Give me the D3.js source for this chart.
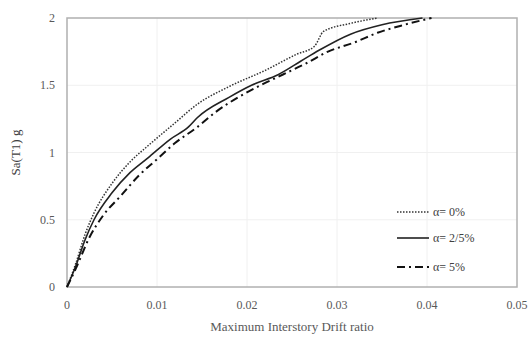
<!DOCTYPE html>
<html>
<head>
<meta charset="utf-8">
<script src="https://cdn.jsdelivr.net/npm/d3@7"></script>
<style>
  body { margin: 0; background: #fff; }
  text { font-family: "Liberation Serif", "Times New Roman", serif; }
</style>
</head>
<body>
<div id="chart"></div>
<script>
// data: [drift ratio, Sa]
var alpha0 = [[0,0],[0.001,0.18],[0.002,0.39],[0.003,0.55],[0.005,0.77],[0.007,0.93],[0.009,1.05],[0.012,1.22],[0.0145,1.36],[0.018,1.49],[0.022,1.61],[0.0255,1.73],[0.0275,1.79],[0.0285,1.9],[0.0315,1.96],[0.0345,2.0]];
var alpha25 = [[0,0],[0.001,0.16],[0.002,0.35],[0.003,0.5],[0.005,0.7],[0.007,0.85],[0.009,0.96],[0.0115,1.1],[0.0135,1.19],[0.0145,1.26],[0.018,1.41],[0.0205,1.5],[0.0235,1.58],[0.026,1.68],[0.028,1.76],[0.0315,1.88],[0.035,1.95],[0.0395,2.0]];
var alpha5 = [[0,0],[0.001,0.14],[0.0025,0.37],[0.004,0.53],[0.006,0.68],[0.008,0.83],[0.01,0.95],[0.012,1.07],[0.0145,1.19],[0.0165,1.3],[0.019,1.41],[0.0215,1.5],[0.024,1.58],[0.0265,1.66],[0.029,1.75],[0.032,1.82],[0.0345,1.89],[0.0375,1.95],[0.0405,2.0]];
var seriesNames = ["\u03b1= 0%", "\u03b1= 2/5%", "\u03b1= 5%"];
var xTicks = [0, 0.01, 0.02, 0.03, 0.04, 0.05];
var yTicks = [0, 0.5, 1, 1.5, 2];

var width = 531, height = 340;
var margin = { top: 18, right: 14, bottom: 53, left: 67 };

var svg = d3.select("#chart").append("svg")
  .attr("width", width)
  .attr("height", height);

var xScale = d3.scaleLinear().domain([0, 0.05]).range([margin.left, width - margin.right]);
var yScale = d3.scaleLinear().domain([0, 2]).range([height - margin.bottom, margin.top]);

// faint grid
svg.append("g").selectAll("line.vg")
  .data(xTicks.slice(1, -1)).enter().append("line")
  .attr("x1", d => xScale(d)).attr("x2", d => xScale(d))
  .attr("y1", yScale(0)).attr("y2", yScale(2))
  .style("stroke", "#f0f0f0").style("stroke-width", 1);
svg.append("g").selectAll("line.hg")
  .data(yTicks.slice(1, -1)).enter().append("line")
  .attr("x1", xScale(0)).attr("x2", xScale(0.05))
  .attr("y1", d => yScale(d)).attr("y2", d => yScale(d))
  .style("stroke", "#f0f0f0").style("stroke-width", 1);

// plot box
svg.append("rect")
  .attr("x", xScale(0)).attr("y", yScale(2))
  .attr("width", xScale(0.05) - xScale(0))
  .attr("height", yScale(0) - yScale(2))
  .style("fill", "none").style("stroke", "#b0b0b0").style("stroke-width", 1.5);

// tick labels
svg.append("g").selectAll("text")
  .data(xTicks).enter().append("text")
  .attr("x", d => xScale(d)).attr("y", yScale(0) + 22)
  .attr("text-anchor", "middle")
  .style("font-size", "12px").style("fill", "#595959")
  .text(d => d);
svg.append("g").selectAll("text")
  .data(yTicks).enter().append("text")
  .attr("x", xScale(0) - 12).attr("y", d => yScale(d) + 4)
  .attr("text-anchor", "end")
  .style("font-size", "12px").style("fill", "#595959")
  .text(d => d);

// axis titles
svg.append("text")
  .attr("x", (xScale(0) + xScale(0.05)) / 2).attr("y", 331)
  .attr("text-anchor", "middle")
  .style("font-size", "13px").style("fill", "#595959")
  .text("Maximum Interstory Drift ratio");
svg.append("text")
  .attr("transform", "translate(20," + ((yScale(0) + yScale(2)) / 2) + ")rotate(-90)")
  .attr("text-anchor", "middle")
  .style("font-size", "13px").style("fill", "#404040")
  .text("Sa(T1) g");

var line = d3.line()
  .x(d => xScale(d[0]))
  .y(d => yScale(d[1]))
  .curve(d3.curveMonotoneX);

var styles = [
  { data: alpha0, dash: "1.5,1.5", w: 1.5, color: "#333" },
  { data: alpha25, dash: null, w: 1.6, color: "#222" },
  { data: alpha5, dash: "8,4,2,4", w: 2, color: "#111" }
];

styles.forEach(function (s) {
  svg.append("path")
    .datum(s.data)
    .attr("d", line)
    .style("fill", "none")
    .style("stroke", s.color)
    .style("stroke-width", s.w)
    .style("stroke-dasharray", s.dash);
});

// legend
var legendY = [212, 238, 267];
styles.forEach(function (s, i) {
  svg.append("line")
    .attr("x1", 397).attr("x2", 429)
    .attr("y1", legendY[i]).attr("y2", legendY[i])
    .style("stroke", s.color)
    .style("stroke-width", s.w)
    .style("stroke-dasharray", s.dash);
  svg.append("text")
    .attr("x", 433).attr("y", legendY[i] + 4)
    .style("font-size", "12px").style("fill", "#404040")
    .text(seriesNames[i]);
});
</script>
</body>
</html>
